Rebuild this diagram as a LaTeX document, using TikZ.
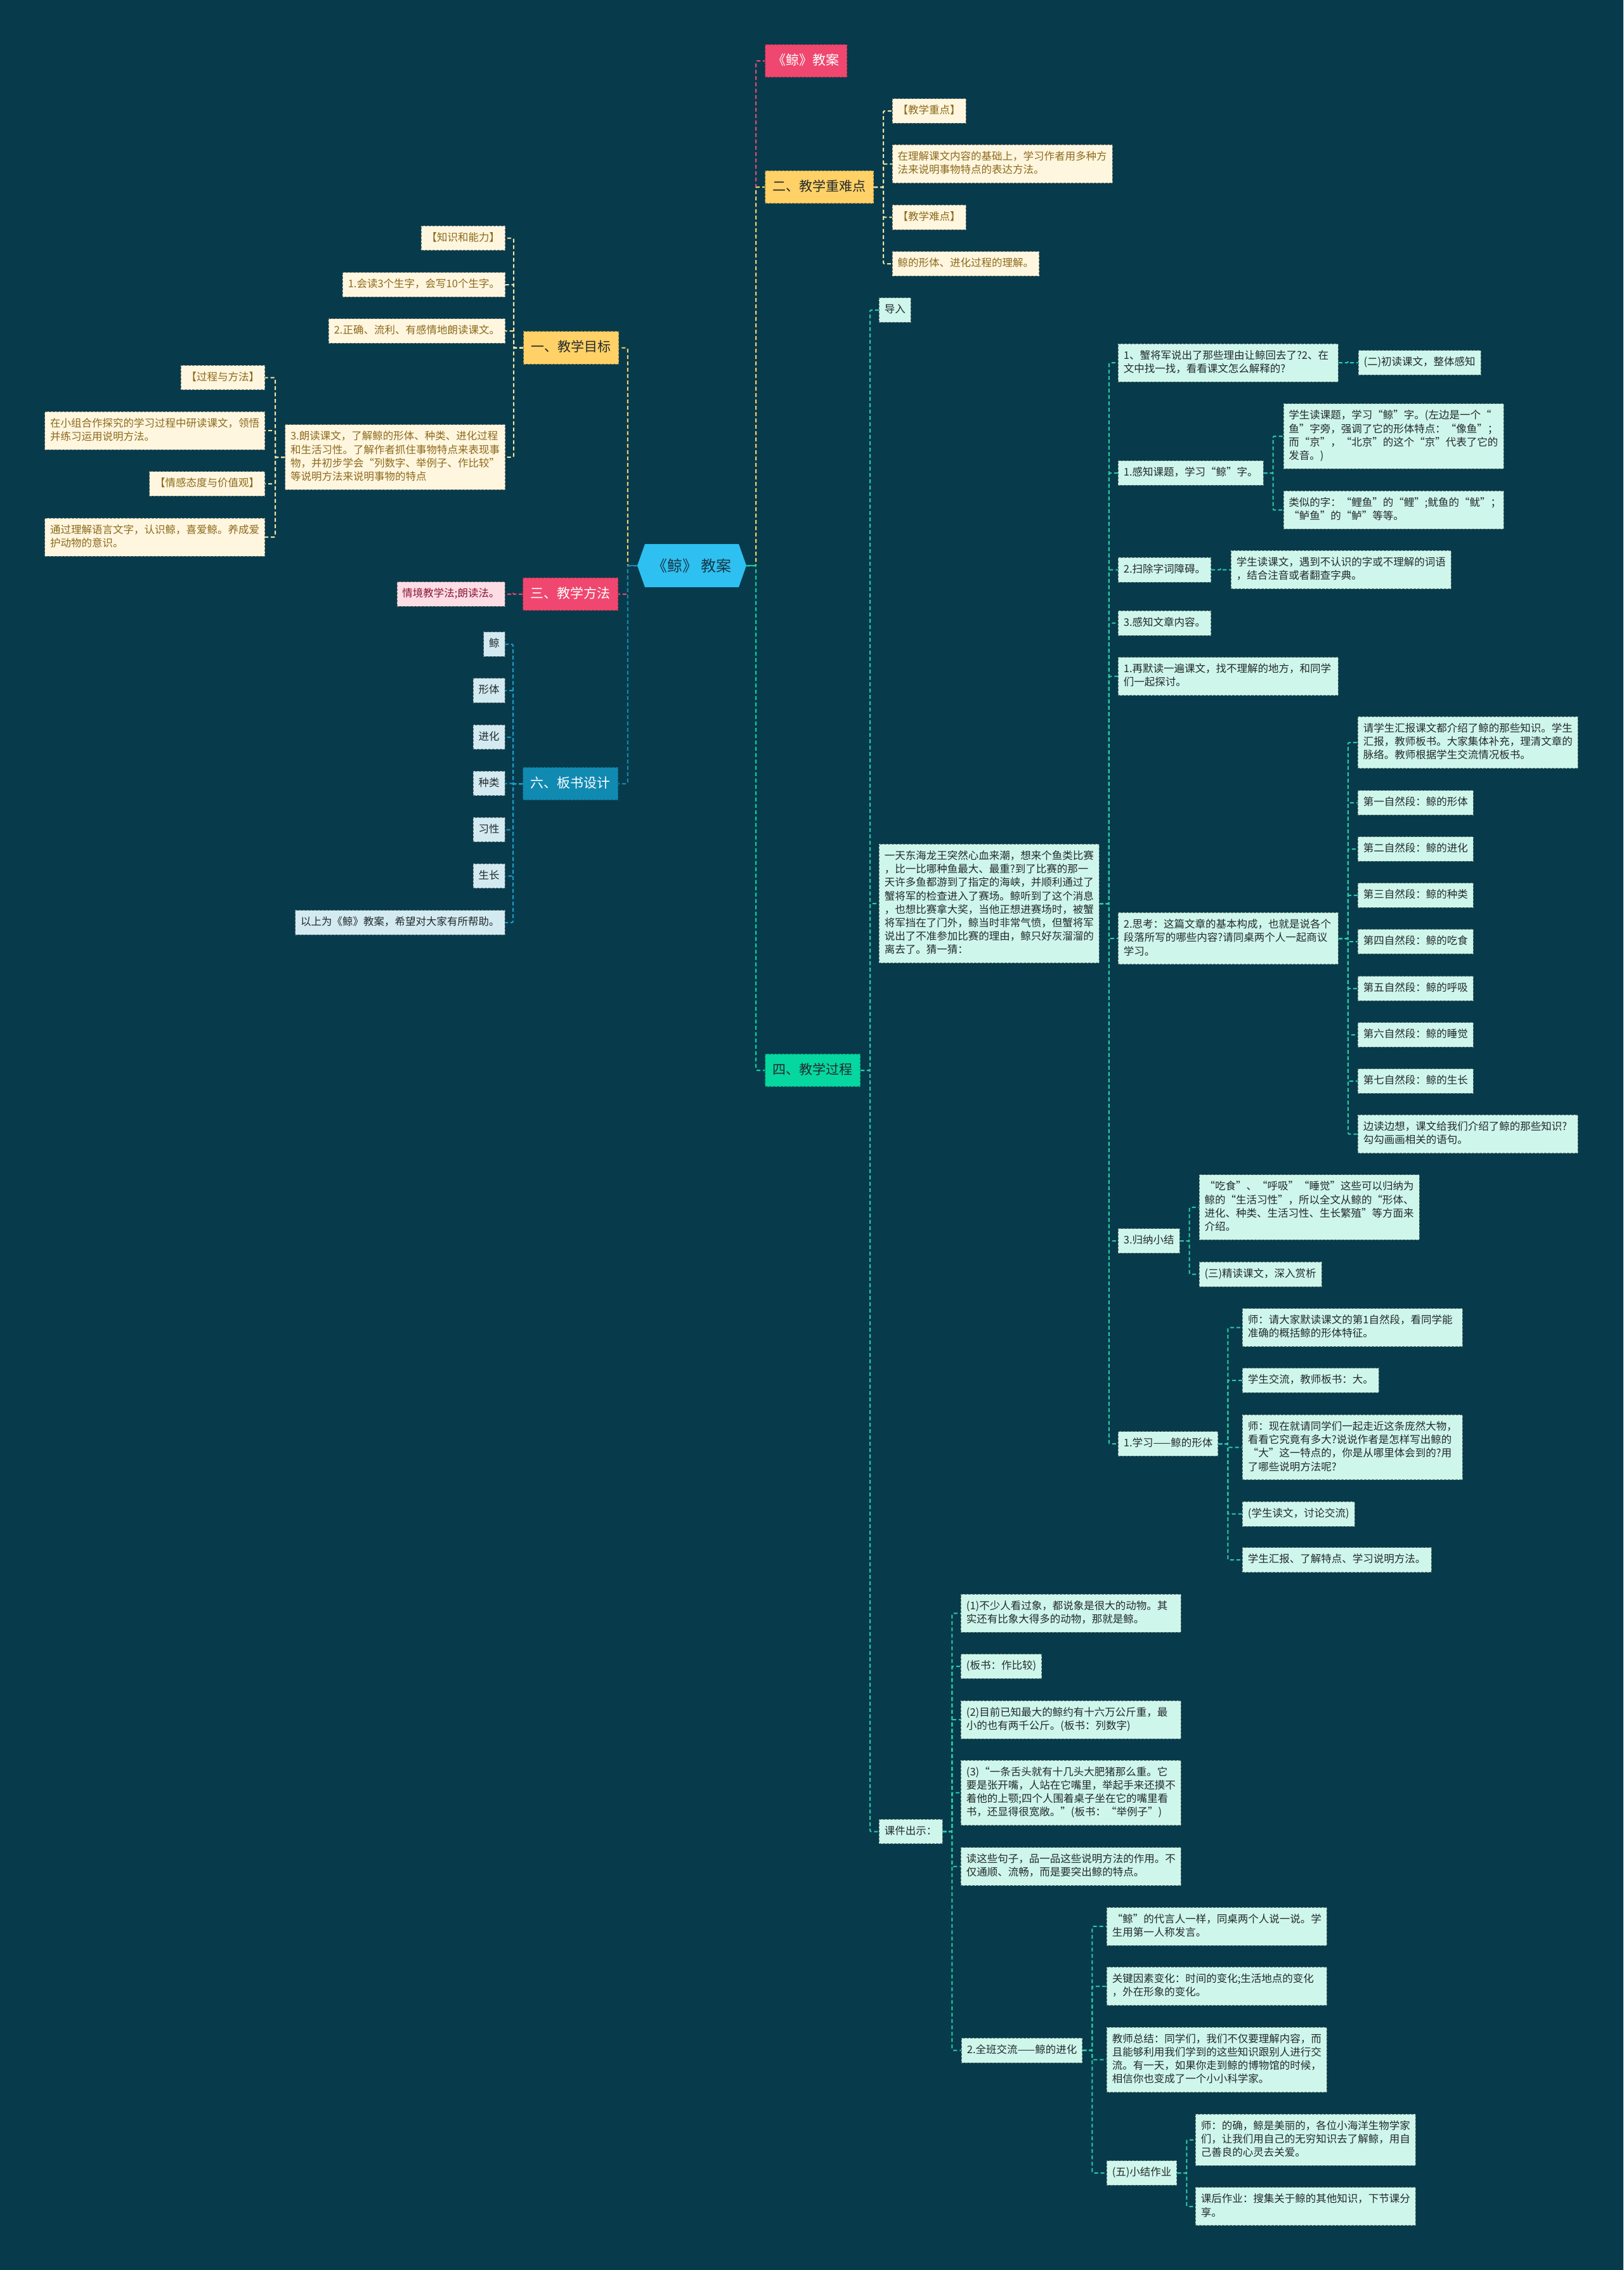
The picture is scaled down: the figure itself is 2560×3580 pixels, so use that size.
\documentclass[tikz,border=0pt]{standalone}
\usepackage{fontspec}
\setmainfont{Noto Sans CJK SC}
\usetikzlibrary{calc}
\definecolor{bgc}{HTML}{073B4C}
\definecolor{pinkc}{HTML}{EF476F}
\definecolor{yelc}{HTML}{FFD166}
\definecolor{greenc}{HTML}{06D6A0}
\definecolor{bluec}{HTML}{118AB2}
\definecolor{rootc}{HTML}{2EC0F0}
\definecolor{roottext}{HTML}{17384A}
\definecolor{yleaf}{HTML}{FFF6DF}
\definecolor{ytext}{HTML}{8C6A1C}
\definecolor{gleaf}{HTML}{CFF6EB}
\definecolor{bleaf}{HTML}{D3EAF1}
\definecolor{pleaf}{HTML}{FDDDE4}
\definecolor{ptext}{HTML}{8A1538}
\definecolor{dtext}{HTML}{222A2C}
\definecolor{lyel}{HTML}{F6E3A4}
\definecolor{lgreen}{HTML}{2CCBA6}
\definecolor{lblue}{HTML}{1E9CC8}
\newcommand\fsmall{\fontsize{16.5}{21.2}\selectfont}
\newcommand\fmainb{\fontsize{21}{26}\selectfont}
\newcommand\frootb{\fontsize{24}{28}\selectfont}
\newcommand\strutA{\rule[-4.5pt]{0pt}{17.5pt}}
\newcommand\strutB{\rule[-5.5pt]{0pt}{22pt}}
\pgfdeclarelayer{bgl}\pgfdeclarelayer{lnl}\pgfsetlayers{bgl,lnl,main}
\tikzset{
 leafbase/.style={font=\fsmall, align=left, inner xsep=8.5pt, inner ysep=10.2pt, draw, dash pattern=on 4pt off 2pt, line width=0.9pt, execute at begin node=\strutA, execute at end node=\strutA},
 ml/.style={text width=330pt},
 yl/.style={leafbase, fill=yleaf, draw=yleaf!50!black, text=ytext},
 gl/.style={leafbase, fill=gleaf, draw=gleaf!50!black, text=dtext},
 bl/.style={leafbase, fill=bleaf, draw=bleaf!50!black, text=dtext},
 pl/.style={leafbase, fill=pleaf, draw=pleaf!50!black, text=ptext},
 mainbase/.style={font=\fmainb, inner xsep=12pt, inner ysep=14pt, draw, dash pattern=on 4pt off 2pt, line width=1pt, execute at begin node=\strutB, execute at end node=\strutB},
 pm/.style={mainbase, fill=pinkc, draw=pinkc!65!black, text=white},
 ym/.style={mainbase, fill=yelc, draw=yelc!60!black, text=dtext},
 gm/.style={mainbase, fill=greenc, draw=greenc!60!black, text=dtext},
 bm/.style={mainbase, fill=bluec, draw=bluec!65!black, text=white},
 cn/.style={draw, line width=2pt, dash pattern=on 6pt off 4pt, rounded corners=2pt},
}
\newcommand\RC[3]{\draw[cn,#1] (#2.east) -- ++(15,0) |- (#3.west);}
\newcommand\LC[3]{\draw[cn,#1] (#2.west) -- ++(-15,0) |- (#3.east);}
\begin{document}
\begin{tikzpicture}[x=1pt,y=-1pt]
\begin{pgfonlayer}{bgl}
\fill[bgc] (0,0) rectangle (2560,3580);
\end{pgfonlayer}
\useasboundingbox (0,0) rectangle (2560,3580);
% root
\fill[rootc] (1005,892) -- (1017,858) -- (1165,858) -- (1177,892) -- (1165,926) -- (1017,926) -- cycle;
\node[font=\frootb, text=roottext, minimum width=172pt, minimum height=68pt, inner sep=0pt] (root) at (1091,892) {《鲸》 教案};
% ---------- right main branches
\node[pm, anchor=west] (p1) at (1206,96) {《鲸》教案};
\node[ym, anchor=west] (b2) at (1206,295) {二、教学重难点};
\node[gm, anchor=west] (b4) at (1206,1688) {四、教学过程};
% 二 children
\node[yl, anchor=west] (b2a) at (1406.6,175) {【教学重点】};
\node[yl, ml, anchor=west] (b2b) at (1406.6,258.5) {在理解课文内容的基础上，学习作者用多种方\\法来说明事物特点的表达方法。};
\node[yl, anchor=west] (b2c) at (1406.6,342.5) {【教学难点】};
\node[yl, anchor=west] (b2d) at (1406.6,416) {鲸的形体、进化过程的理解。};
% 四 children
\node[gl, anchor=west] (c1) at (1386,489) {导入};
\node[gl, ml, anchor=west] (c2) at (1386,1425) {一天东海龙王突然心血来潮，想来个鱼类比赛\\，比一比哪种鱼最大、最重?到了比赛的那一\\天许多鱼都游到了指定的海峡，并顺利通过了\\蟹将军的检查进入了赛场。鲸听到了这个消息\\，也想比赛拿大奖，当他正想进赛场时，被蟹\\将军挡在了门外，鲸当时非常气愤，但蟹将军\\说出了不准参加比赛的理由，鲸只好灰溜溜的\\离去了。猜一猜：};
\node[gl, anchor=west] (c3) at (1386,2888.5) {课件出示：};
% story children
\node[gl, ml, anchor=west] (d1) at (1763,572) {1、蟹将军说出了那些理由让鲸回去了?2、在\\文中找一找，看看课文怎么解释的?};
\node[gl, anchor=west] (e1) at (2141.6,572) {(二)初读课文，整体感知};
\node[gl, anchor=west] (d2) at (1763,746) {1.感知课题，学习“鲸”字。};
\node[gl, ml, anchor=west] (e2a) at (2023.5,688) {学生读课题，学习“鲸”字。(左边是一个“\\鱼”字旁，强调了它的形体特点：“像鱼”；\\而“京”，“北京”的这个“京”代表了它的\\发音。)};
\node[gl, ml, anchor=west] (e2b) at (2023.5,804.3) {类似的字：“鲤鱼”的“鲤”;鱿鱼的“鱿”；\\“鲈鱼”的“鲈”等等。};
\node[gl, anchor=west] (d3) at (1763,898.5) {2.扫除字词障碍。};
\node[gl, ml, anchor=west] (e3) at (1941,898.5) {学生读课文，遇到不认识的字或不理解的词语\\，结合注音或者翻查字典。};
\node[gl, anchor=west] (d4) at (1763,982.5) {3.感知文章内容。};
\node[gl, ml, anchor=west] (d5) at (1763,1066.6) {1.再默读一遍课文，找不理解的地方，和同学\\们一起探讨。};
\node[gl, ml, anchor=west] (d6) at (1763,1480) {2.思考：这篇文章的基本构成，也就是说各个\\段落所写的哪些内容?请同桌两个人一起商议\\学习。};
\node[gl, ml, anchor=west] (f1) at (2141,1171) {请学生汇报课文都介绍了鲸的那些知识。学生\\汇报，教师板书。大家集体补充，理清文章的\\脉络。教师根据学生交流情况板书。};
\node[gl, anchor=west] (f2) at (2141,1266) {第一自然段：鲸的形体};
\node[gl, anchor=west] (f3) at (2141,1339) {第二自然段：鲸的进化};
\node[gl, anchor=west] (f4) at (2141,1412) {第三自然段：鲸的种类};
\node[gl, anchor=west] (f5) at (2141,1485) {第四自然段：鲸的吃食};
\node[gl, anchor=west] (f6) at (2141,1559) {第五自然段：鲸的呼吸};
\node[gl, anchor=west] (f7) at (2141,1632) {第六自然段：鲸的睡觉};
\node[gl, anchor=west] (f8) at (2141,1705) {第七自然段：鲸的生长};
\node[gl, ml, anchor=west] (f9) at (2141,1788.5) {边读边想，课文给我们介绍了鲸的那些知识?\\勾勾画画相关的语句。};
\node[gl, anchor=west] (d7) at (1763,1957) {3.归纳小结};
\node[gl, ml, anchor=west] (g1) at (1890.6,1904) {“吃食”、“呼吸”“睡觉”这些可以归纳为\\鲸的“生活习性”，所以全文从鲸的“形体、\\进化、种类、生活习性、生长繁殖”等方面来\\介绍。};
\node[gl, anchor=west] (g2) at (1890.6,2009.5) {(三)精读课文，深入赏析};
\node[gl, anchor=west] (d8) at (1763,2277) {1.学习——鲸的形体};
\node[gl, ml, anchor=west] (h1) at (1959,2093.6) {师：请大家默读课文的第1自然段，看同学能\\准确的概括鲸的形体特征。};
\node[gl, anchor=west] (h2) at (1959,2177) {学生交流，教师板书：大。};
\node[gl, ml, anchor=west] (h3) at (1959,2282.5) {师：现在就请同学们一起走近这条庞然大物，\\看看它究竟有多大?说说作者是怎样写出鲸的\\“大”这一特点的，你是从哪里体会到的?用\\了哪些说明方法呢?};
\node[gl, anchor=west] (h4) at (1959,2387.6) {(学生读文，讨论交流)};
\node[gl, anchor=west] (h5) at (1959,2460.2) {学生汇报、了解特点、学习说明方法。};
% 课件出示 children
\node[gl, ml, anchor=west] (k1) at (1515,2544.3) {(1)不少人看过象，都说象是很大的动物。其\\实还有比象大得多的动物，那就是鲸。};
\node[gl, anchor=west] (k2) at (1515,2628) {(板书：作比较)};
\node[gl, ml, anchor=west] (k3) at (1515,2712) {(2)目前已知最大的鲸约有十六万公斤重，最\\小的也有两千公斤。(板书：列数字)};
\node[gl, ml, anchor=west] (k4) at (1515,2827.4) {(3)“一条舌头就有十几头大肥猪那么重。它\\要是张开嘴，人站在它嘴里，举起手来还摸不\\着他的上颚;四个人围着桌子坐在它的嘴里看\\书，还显得很宽敞。”(板书：“举例子”)};
\node[gl, ml, anchor=west] (k5) at (1515,2943.5) {读这些句子，品一品这些说明方法的作用。不\\仅通顺、流畅，而是要突出鲸的特点。};
\node[gl, anchor=west] (k6) at (1516,3233.5) {2.全班交流——鲸的进化};
\node[gl, ml, anchor=west] (m1) at (1744.8,3038) {“鲸”的代言人一样，同桌两个人说一说。学\\生用第一人称发言。};
\node[gl, ml, anchor=west] (m2) at (1744.8,3132.5) {关键因素变化：时间的变化;生活地点的变化\\，外在形象的变化。};
\node[gl, ml, anchor=west] (m3) at (1744.8,3248.3) {教师总结：同学们，我们不仅要理解内容，而\\且能够利用我们学到的这些知识跟别人进行交\\流。有一天，如果你走到鲸的博物馆的时候，\\相信你也变成了一个小小科学家。};
\node[gl, anchor=west] (m4) at (1744.8,3427) {(五)小结作业};
\node[gl, ml, anchor=west] (n1) at (1885,3374.8) {师：的确，鲸是美丽的，各位小海洋生物学家\\们，让我们用自己的无穷知识去了解鲸，用自\\己善良的心灵去关爱。};
\node[gl, ml, anchor=west] (n2) at (1885,3479.8) {课后作业：搜集关于鲸的其他知识，下节课分\\享。};
% ---------- left main branches
\node[ym, anchor=east] (a1) at (976,548.5) {一、教学目标};
\node[pm, anchor=east] (a3) at (975,937) {三、教学方法};
\node[bm, anchor=east] (a6) at (975,1236) {六、板书设计};
\node[yl, anchor=east] (a1a) at (797,375.5) {【知识和能力】};
\node[yl, anchor=east] (a1b) at (797,449) {1.会读3个生字，会写10个生字。};
\node[yl, anchor=east] (a1c) at (797,522) {2.正确、流利、有感情地朗读课文。};
\node[yl, ml, anchor=east] (a1d) at (797,721) {3.朗读课文，了解鲸的形体、种类、进化过程\\和生活习性。了解作者抓住事物特点来表现事\\物，并初步学会“列数字、举例子、作比较”\\等说明方法来说明事物的特点};
\node[yl, anchor=east] (a1d1) at (418,595.5) {【过程与方法】};
\node[yl, ml, anchor=east] (a1d2) at (418,679) {在小组合作探究的学习过程中研读课文，领悟\\并练习运用说明方法。};
\node[yl, anchor=east] (a1d3) at (418,763) {【情感态度与价值观】};
\node[yl, ml, anchor=east] (a1d4) at (418,847) {通过理解语言文字，认识鲸，喜爱鲸。养成爱\\护动物的意识。};
\node[pl, anchor=east] (a3a) at (796.5,937) {情境教学法;朗读法。};
\node[bl, anchor=east] (s1) at (796.5,1016) {鲸};
\node[bl, anchor=east] (s2) at (796.5,1089) {形体};
\node[bl, anchor=east] (s3) at (796.5,1162.5) {进化};
\node[bl, anchor=east] (s4) at (796.5,1235.5) {种类};
\node[bl, anchor=east] (s5) at (796.5,1308.5) {习性};
\node[bl, anchor=east] (s6) at (796.5,1381.5) {生长};
\node[bl, anchor=east] (s7) at (796.5,1455) {以上为《鲸》教案，希望对大家有所帮助。};
% ---------- connectors
\begin{pgfonlayer}{lnl}
\RC{pinkc}{root}{p1}
\RC{yelc}{root}{b2}
\RC{greenc}{root}{b4}
\LC{yelc}{root}{a1}
\LC{pinkc}{root}{a3}
\LC{bluec}{root}{a6}
\draw[line width=2.5pt, bluec] (root.west) -- ++(-15,0);
\draw[line width=2.5pt, greenc] (root.east) -- ++(15,0);
\foreach \c in {b2a,b2b,b2c,b2d}{\RC{lyel}{b2}{\c}}
\foreach \c in {c1,c2,c3}{\RC{lgreen}{b4}{\c}}
\foreach \c in {d1,d2,d3,d4,d5,d6,d7,d8}{\RC{lgreen}{c2}{\c}}
\RC{lgreen}{d1}{e1}
\foreach \c in {e2a,e2b}{\RC{lgreen}{d2}{\c}}
\RC{lgreen}{d3}{e3}
\foreach \c in {f1,f2,f3,f4,f5,f6,f7,f8,f9}{\RC{lgreen}{d6}{\c}}
\foreach \c in {g1,g2}{\RC{lgreen}{d7}{\c}}
\foreach \c in {h1,h2,h3,h4,h5}{\RC{lgreen}{d8}{\c}}
\foreach \c in {k1,k2,k3,k4,k5,k6}{\RC{lgreen}{c3}{\c}}
\foreach \c in {m1,m2,m3,m4}{\RC{lgreen}{k6}{\c}}
\foreach \c in {n1,n2}{\RC{lgreen}{m4}{\c}}
\foreach \c in {a1a,a1b,a1c,a1d}{\LC{lyel}{a1}{\c}}
\foreach \c in {a1d1,a1d2,a1d3,a1d4}{\LC{lyel}{a1d}{\c}}
\LC{pinkc}{a3}{a3a}
\foreach \c in {s1,s2,s3,s4,s5,s6,s7}{\LC{lblue}{a6}{\c}}
\end{pgfonlayer}
\end{tikzpicture}
\end{document}
